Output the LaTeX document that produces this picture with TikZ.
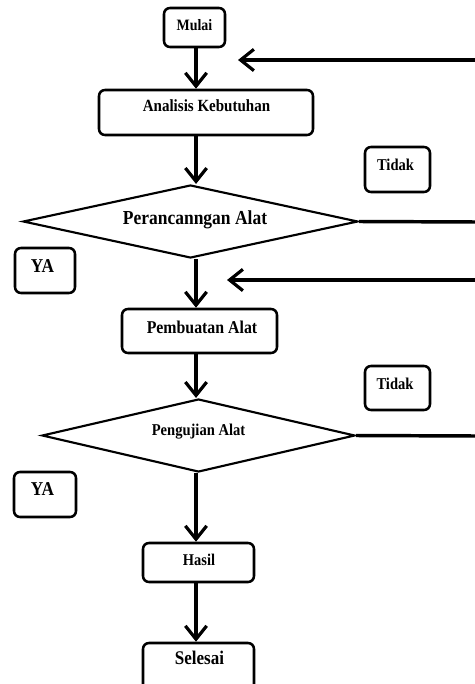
\documentclass[tikz,border=0pt]{standalone}
\usepackage{fontspec}
\usepackage{graphicx}
\setmainfont{Liberation Serif}
\usetikzlibrary{shapes.geometric,arrows.meta}
\newcommand{\lbl}[2]{\fontsize{#1}{#1}\selectfont\bfseries\scalebox{0.88}[1.0]{#2}}
\tikzset{
  box/.style={draw=black, line width=1.9pt, rounded corners=4.5pt, inner sep=0pt, fill=white},
  dia/.style={draw=black, line width=1.6pt, diamond, aspect=1, inner sep=0pt},
  sz/.style 2 args={minimum width={0.75pt*#1}, minimum height={0.75pt*#2}},
  txt/.style={inner sep=0pt, text=black},
  flow/.style={draw=black, line width=2.6pt, -{Straight Barb[length=10pt,width=16pt,line width=2.4pt]}},
  plain/.style={draw=black, line width=2.6pt},
}
\begin{document}
\begin{tikzpicture}[x=0.75pt,y=-0.75pt]
\useasboundingbox (0,0) rectangle (474,684);
% boxes
\node[box, sz={61}{39}] (mulai) at (194.5,27.5) {};
\node[txt] (tmulai) at (194.5,25) {\lbl{11.9pt}{Mulai}};
\node[box, sz={214}{45}] (analisis) at (206,112.5) {};
\node[txt] (tanalisis) at (206.5,106) {\lbl{12.8pt}{Analisis Kebutuhan}};
\node[box, sz={65}{45}] (tidak1) at (397.5,169.5) {};
\node[txt] (ttidak1) at (395.5,165) {\lbl{12.4pt}{Tidak}};
\node[dia, sz={335}{73}] (d1) at (190.5,221.5) {};
\node[txt] (td1) at (195,220) {\lbl{14.9pt}{Perancanngan Alat}};
\node[box, sz={60}{45}] (ya1) at (45,270.5) {};
\node[txt] (tya1) at (42.5,266) {\lbl{14.7pt}{YA}};
\node[box, sz={155}{44}] (pembuatan) at (199.5,331) {};
\node[txt] (tpembuatan) at (202,327) {\lbl{13.5pt}{Pembuatan Alat}};
\node[box, sz={65}{44}] (tidak2) at (397.5,388) {};
\node[txt] (ttidak2) at (395,384) {\lbl{12.4pt}{Tidak}};
\node[dia, sz={313}{73}] (d2) at (198.5,435.5) {};
\node[txt] (td2) at (198.5,432) {\lbl{12.4pt}{Pengujian Alat}};
\node[box, sz={62}{45}] (ya2) at (45,494.5) {};
\node[txt] (tya2) at (42.5,489) {\lbl{14.7pt}{YA}};
\node[box, sz={111}{39}] (hasil) at (198.5,562.5) {};
\node[txt] (thasil) at (199,560) {\lbl{12.3pt}{Hasil}};
\node[box, sz={111}{47}] (selesai) at (198.5,666.5) {};
\node[txt] (tselesai) at (199.5,658) {\lbl{14.5pt}{Selesai}};
% free ends at the right edge
\coordinate (r1) at (476,60);
\coordinate (h1) at (238,60);
\coordinate (r2) at (476,222);
\coordinate (r3) at (476,280);
\coordinate (h3) at (227,280);
\coordinate (r4) at (476,436);
\coordinate (sp) at (196,0);
% connectors
\draw[flow] (sp |- mulai.south) -- (sp |- analisis.north);
\draw[flow] (sp |- analisis.south) -- (sp |- d1.north);
\draw[flow] (sp |- d1.south) -- (sp |- pembuatan.north);
\draw[flow] (sp |- pembuatan.south) -- (sp |- d2.north);
\draw[flow] (sp |- d2.south) -- (sp |- hasil.north);
\draw[flow] (sp |- hasil.south) -- (sp |- selesai.north);
\draw[flow] (r1) -- (h1);
\draw[flow] (r3) -- (h3);
\draw[plain] (d1.east) -- (r2);
\draw[plain] (d2.east) -- (r4);
\end{tikzpicture}
\end{document}
